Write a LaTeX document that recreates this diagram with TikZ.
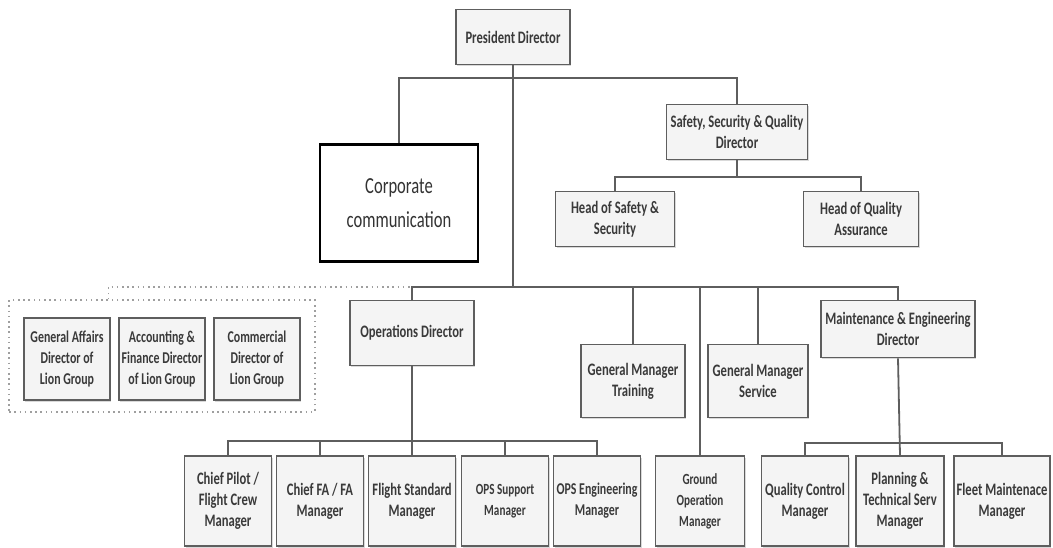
\documentclass[tikz,border=0pt]{standalone}
\usepackage{fontspec}
\setmainfont{Carlito}[FakeStretch=0.72]
\usetikzlibrary{fit,shadows}
\definecolor{boxline}{HTML}{5E5E5E}
\definecolor{boxfill}{HTML}{F4F4F4}
\definecolor{boxtext}{HTML}{3A3A3A}

\begin{document}
\begin{tikzpicture}[x=1pt,y=-1pt,
    role/.style={               % Grey boxes of the chart.
      rectangle,
      draw=boxline,
      fill=boxfill,
      line width=1.6pt,
      text=boxtext,
      align=center,
      inner sep=1pt,
      font=\bfseries\fontsize{17.5}{21}\selectfont,
      drop shadow={shadow xshift=1pt,shadow yshift=-1.5pt,opacity=.3}
    },
    mgr/.style={                % Managers on the bottom row.
      role,
      minimum width=87pt,
      minimum height=90pt
    },
    lion/.style={               % Directors of the group.
      role,
      minimum width=86pt,
      minimum height=82pt,
      font=\bfseries\fontsize{16.5}{21}\selectfont
    },
    corp/.style={               % The one box with a black frame.
      rectangle,
      draw=black,
      fill=white,
      line width=2.6pt,
      text=black!80,
      align=center,
      font=\fontsize{23}{34}\selectfont
    },
    link/.style={               % Reporting lines.
      draw=boxline,
      line width=1.8pt
    },
    grouplink/.style={          % Dotted frame of the group.
      draw=gray!75,
      line width=1.6pt,
      dash pattern=on 1.6pt off 3.6pt
    }]

    \useasboundingbox (0,0) rectangle (1053,548);

    % Top of the chart.
    \node[role,minimum width=114pt,minimum height=55pt] (pres) at (513,37) {President Director};
    \node[corp,minimum width=158pt,minimum height=117pt] (corp) at (399,203) {Corporate\\communication};
    \node[role,minimum width=141pt,minimum height=55pt] (ssq) at (737,132)
      {Safety, Security \& Quality\\Director};
    \node[role,minimum width=119pt,minimum height=55pt] (hss) at (615,219) {Head of Safety \&\\Security};
    \node[role,minimum width=115pt,minimum height=55pt] (hqa) at (861,219) {Head of Quality\\Assurance};

    % Directors and general managers.
    \node[role,minimum width=124pt,minimum height=65pt] (ops) at (412,333) {Operations Director};
    \node[role,minimum width=104pt,minimum height=73pt] (gmt) at (633,381) {General Manager\\Training};
    \node[role,minimum width=100pt,minimum height=73pt] (gms) at (758,381) {General Manager\\Service};
    \node[role,minimum width=154pt,minimum height=57pt] (med) at (898,329)
      {Maintenance \& Engineering\\Director};

    % Directors of Lion Group.
    \node[lion] (gad) at (67,359)  {General Affairs\\Director of\\Lion Group};
    \node[lion] (afd) at (162,359) {Accounting \&\\Finance Director\\of Lion Group};
    \node[lion] (cdl) at (257,359) {Commercial\\Director of\\Lion Group};
    \node[grouplink,fit=(gad)(afd)(cdl),inner xsep=14pt,inner ysep=14pt,yshift=3pt] (lion) {};

    % Managers.
    \node[mgr] (cpm) at (228,501) {Chief Pilot /\\Flight Crew\\Manager};
    \node[mgr] (cfa) at (320,501) {Chief FA / FA\\Manager};
    \node[mgr] (fsm) at (412,501) {Flight Standard\\Manager};
    \node[mgr,font=\bfseries\fontsize{15.5}{21}\selectfont] (osm) at (505,501) {OPS Support\\Manager};
    \node[mgr,font=\bfseries\fontsize{16.5}{21}\selectfont] (oem) at (597,501) {OPS Engineering\\Manager};
    \node[mgr,minimum width=89pt,font=\bfseries\fontsize{15.5}{21}\selectfont] (gom) at (700,501)
      {Ground\\Operation\\Manager};
    \node[mgr] (qcm) at (805,501) {Quality Control\\Manager};
    \node[mgr,minimum width=88pt] (pts) at (900,501) {Planning \&\\Technical Serv\\Manager};
    \node[mgr,minimum width=96pt] (fmm) at (1002,501) {Fleet Maintenace\\Manager};

    % Bus points.
    \coordinate (topbus) at (513,78);
    \coordinate (mainbus) at (513,287);
    \coordinate (ssqbus) at (737,177);
    \coordinate (opsbus) at (412,441);
    \coordinate (medbus) at (900,443);

    % Reporting lines.
    \draw[link] (pres.south) -- (mainbus);
    \draw[link] (corp.north) |- (topbus) -| (ssq.north);
    \draw[link] (ssq.south) -- (ssqbus);
    \draw[link] (hss.north) |- (ssqbus) -| (hqa.north);
    \draw[link] (ops.north) |- (mainbus) -| (med.north);
    \draw[link] (gmt.north) -- (gmt.north |- mainbus);
    \draw[link] (gms.north) -- (gms.north |- mainbus);
    \draw[link] (gom.north) -- (gom.north |- mainbus);
    \draw[link] (ops.south) -- (fsm.north);
    \draw[link] (cpm.north) |- (opsbus) -| (oem.north);
    \draw[link] (cfa.north) -- (cfa.north |- opsbus);
    \draw[link] (osm.north) -- (osm.north |- opsbus);
    \draw[link] (med.south) -- (pts.north);
    \draw[link] (qcm.north) |- (medbus) -| (fmm.north);
    \draw[grouplink] ([xshift=100pt]lion.north west) |- (ops.north |- mainbus);
\end{tikzpicture}
\end{document}
